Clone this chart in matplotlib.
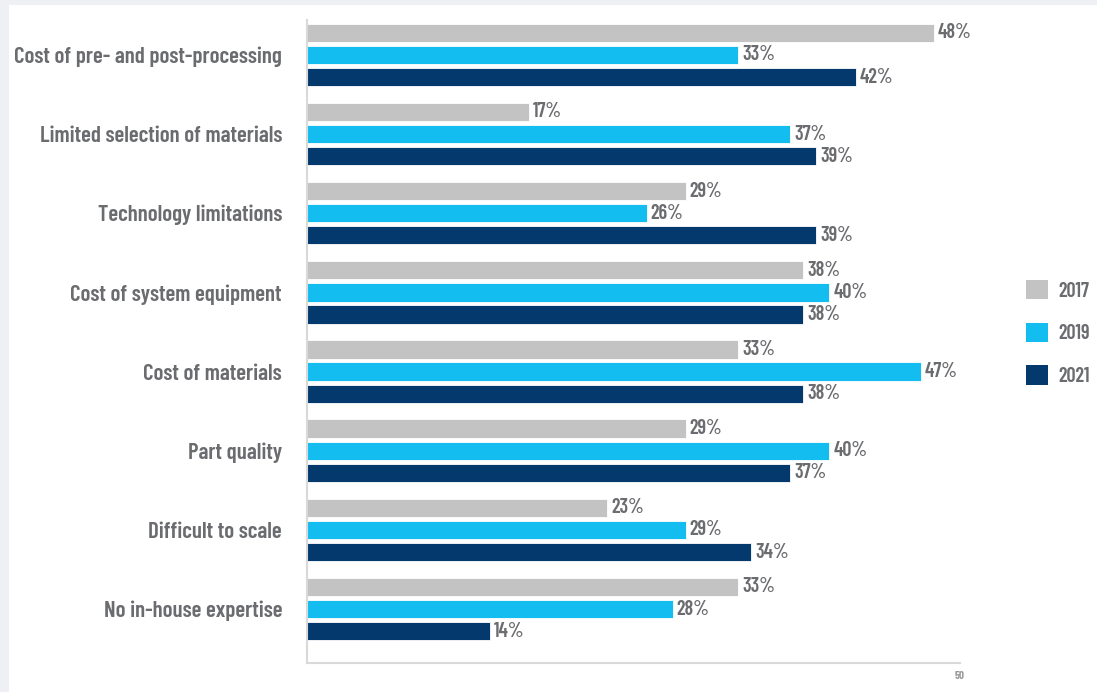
import matplotlib.pyplot as plt
from matplotlib.patches import Patch, Rectangle
import numpy as np

# data
categories = ["Cost of pre- and post-processing", "Limited selection of materials",
              "Technology limitations", "Cost of system equipment", "Cost of materials",
              "Part quality", "Difficult to scale", "No in-house expertise"]
years = ["2017", "2019", "2021"]
v2017 = [48, 17, 29, 38, 33, 29, 23, 33]
v2019 = [33, 37, 26, 40, 47, 40, 29, 28]
v2021 = [42, 39, 39, 38, 38, 37, 34, 14]
colors = ["#c3c3c3", "#14bdef", "#03396c"]

plt.rcParams['font.family'] = ['Barlow Condensed', 'DejaVu Sans']
text_gray = "#6b6c6f"

fig = plt.figure(figsize=(10.97, 6.92), dpi=100)
fig.patch.set_facecolor("#eef0f3")
fig.patches.append(Rectangle((9 / 1097, 0), 1, 1 - 5 / 692, transform=fig.transFigure,
                             facecolor="white", edgecolor="none", zorder=-10))

ax = fig.add_axes([307 / 1097, 1 - 663 / 692, (960 - 307) / 1097, (663 - 20) / 692])
ax.set_facecolor("none")

y = np.arange(len(categories))
offset = 0.28
height = 0.23
for i, (vals, c) in enumerate(zip([v2017, v2019, v2021], colors)):
    pos = y + (i - 1) * offset
    bars = ax.barh(pos, vals, height=height, color=c, edgecolor="white", linewidth=0.6)
    for b, v in zip(bars, vals):
        ax.text(b.get_width() + 0.3, b.get_y() + b.get_height() / 2, f"{v}%",
                va="center", ha="left", fontsize=14.5, fontweight=600, color=text_gray)

ax.set_xlim(0, 50)
ax.set_ylim(7.68, -0.44)
ax.set_yticks(y)
ax.set_yticklabels(categories, fontsize=16.5, fontweight=600, color=text_gray)
ax.tick_params(axis="y", length=0, pad=18)
ax.set_xticks([50])
ax.set_xticklabels(["50"], fontsize=8, fontweight=700, color="#9a9a9a")
ax.tick_params(axis="x", length=0, pad=6)
for s in ["top", "right"]:
    ax.spines[s].set_visible(False)
for s in ["left", "bottom"]:
    ax.spines[s].set_color("#d9d9d9")
    ax.spines[s].set_linewidth(1.5)

handles = [Patch(facecolor=c, edgecolor="none") for c in colors]
fig.legend(handles, years, loc="center left", bbox_to_anchor=(1026 / 1097, 1 - 333 / 692),
           frameon=False, handlelength=1.1, handleheight=1.1, borderpad=0, borderaxespad=0,
           handletextpad=0.5, labelspacing=1.1, labelcolor=text_gray,
           prop={"family": "Barlow Condensed", "weight": 600, "size": 14.5})

fig.savefig("out.png", dpi=100, facecolor=fig.get_facecolor())
